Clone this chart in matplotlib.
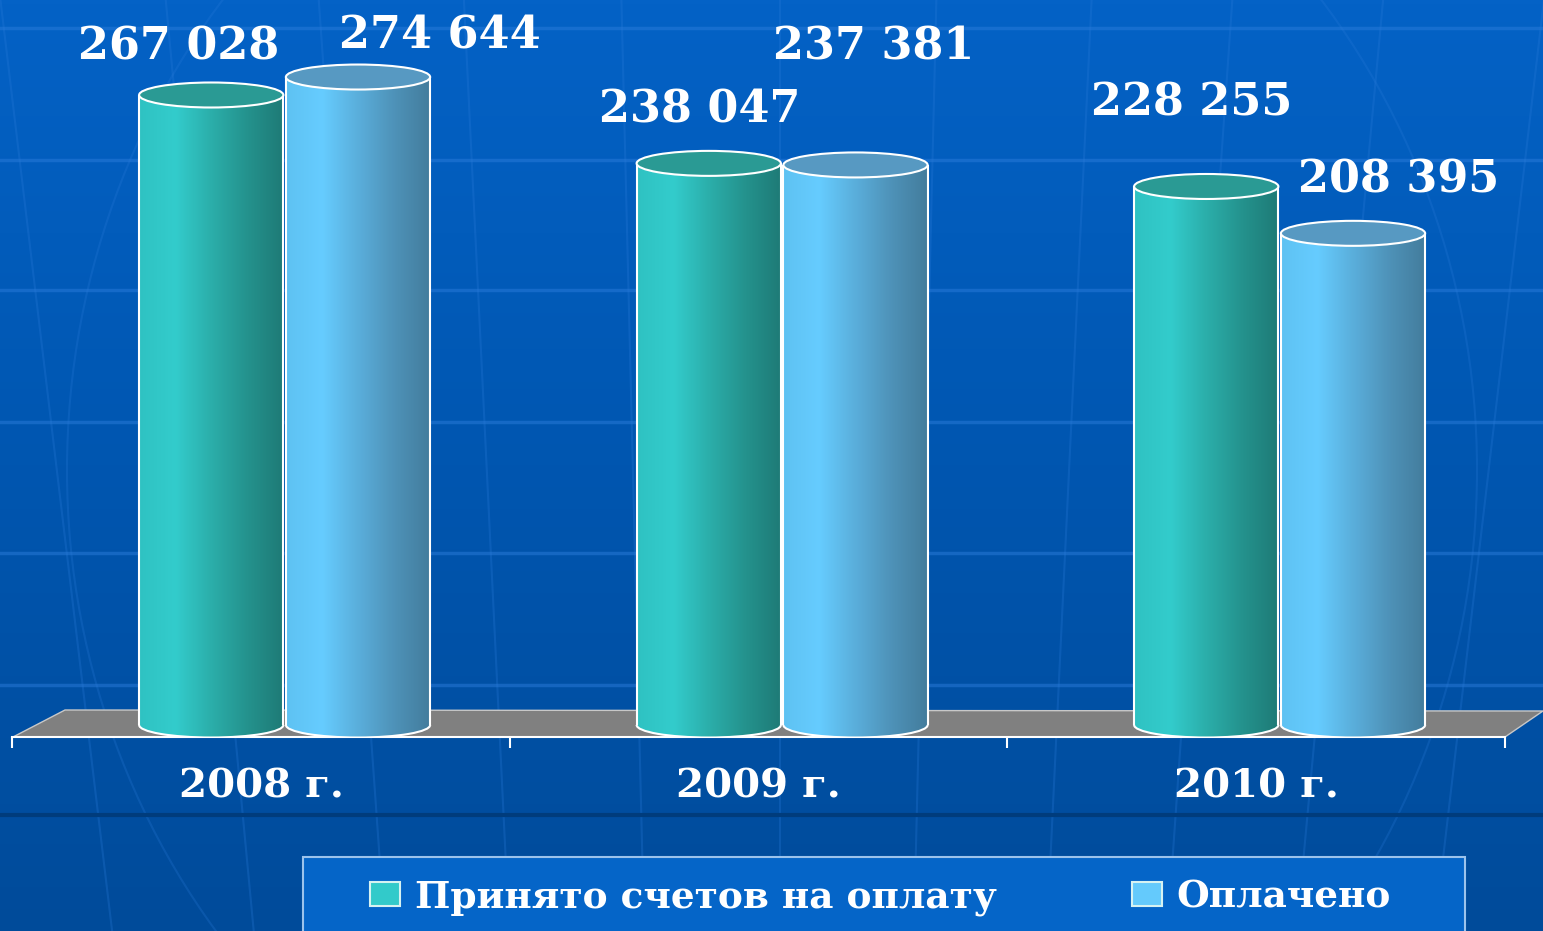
import numpy as np
import matplotlib
matplotlib.use('Agg')
import matplotlib.pyplot as plt
from matplotlib.patches import Ellipse, Arc, Rectangle, Polygon
from matplotlib.colors import LinearSegmentedColormap

# data
years = ['2008 г.', '2009 г.', '2010 г.']
accepted = [267028, 238047, 228255]   # Принято счетов на оплату
paid = [274644, 237381, 208395]       # Оплачено
series_names = ['Принято счетов на оплату', 'Оплачено']

W, H = 1543, 931
fig = plt.figure(figsize=(W / 100, H / 100), dpi=100)
font = dict(family='DejaVu Serif', weight='bold')

# ---- background (pixel coords) ----
bg = fig.add_axes([0, 0, 1, 1], zorder=0)
bg.set_xlim(0, W)
bg.set_ylim(H, 0)
bg.axis('off')
bg_cmap = LinearSegmentedColormap.from_list('bg', ['#0462C6', '#0056B0', '#004B9A'])
bg.imshow(np.linspace(0, 1, 256).reshape(-1, 1), cmap=bg_cmap,
          extent=(0, W, H, 0), aspect='auto', zorder=0)
for gy in [28, 160, 290, 422, 553, 685]:
    bg.axhline(gy, color='#2A7BDA', lw=2.5, alpha=0.5, zorder=1)
# perspective lines converging below the slide
vp = (780, 6500)
for x680 in [-60, 82, 230, 367, 497, 638, 780, 920, 1059, 1185, 1320, 1464, 1600]:
    k = (x680 - vp[0]) / (680 - vp[1])
    bg.plot([x680 + k * (0 - 680), x680 + k * (H - 680)], [0, H],
            color='#2A7BDA', lw=1.5, alpha=0.28, zorder=1)
bg.add_patch(Ellipse((772, 470), 1410, 1500, fill=False, edgecolor='#2A7BDA',
                     lw=1.5, alpha=0.25, zorder=1))
bg.axhline(815, color='#003C7C', lw=3, zorder=2)
# floor
bg.add_patch(Polygon([(13, 737), (1505, 737), (1543, 711), (65, 710)],
                     facecolor='#808080', edgecolor='#C8C8C8', lw=1, zorder=3))
# legend frame
bg.add_patch(Rectangle((303, 857), 1162, 90, facecolor='#0565C8',
                       edgecolor='#9CC3EC', lw=1.5, zorder=3))

# ---- chart axes ----
ax = fig.add_axes([0, (H - 737) / H, 1, 737 / H], zorder=1)
ax.patch.set_alpha(0)
scale = 630 / 267028          # pixels per unit
eh = 25 / scale               # ellipse height in data units
bw = 0.29
x = np.arange(len(years))

green_cmap = LinearSegmentedColormap.from_list(
    'g', ['#2FC2C2', '#33CCCC', '#2BAEAA', '#24928D', '#1E7A76'])
blue_cmap = LinearSegmentedColormap.from_list(
    'b', ['#5EC2F2', '#66CCFF', '#5AAEDB', '#4E92B8', '#437C9C'])
grad = np.linspace(0, 1, 256).reshape(1, -1)


def cylinders(xs, vals, cmap, top_color, z):
    bars = ax.bar(xs, vals, bw, color=cmap(0.2), edgecolor='none', zorder=z)
    for rect, v in zip(bars, vals):
        x0 = rect.get_x()
        w = rect.get_width()
        xc = x0 + w / 2
        im = ax.imshow(grad, cmap=cmap, extent=(x0, x0 + w, 0, v),
                       aspect='auto', zorder=z + 0.1)
        im.set_clip_path(rect)
        bot = Ellipse((xc, 0), w, eh, facecolor=cmap(0.2), edgecolor='none', zorder=z)
        ax.add_patch(bot)
        im2 = ax.imshow(grad, cmap=cmap, extent=(x0, x0 + w, -eh / 2, 0),
                        aspect='auto', zorder=z + 0.1)
        im2.set_clip_path(bot)
        ax.vlines([x0, x0 + w], 0, v, colors='white', lw=1.5, zorder=z + 0.2)
        ax.add_patch(Arc((xc, 0), w, eh, theta1=180, theta2=360,
                         color='white', lw=1.5, zorder=z + 0.2))
        ax.add_patch(Ellipse((xc, v), w, eh, facecolor=top_color,
                             edgecolor='white', lw=1.5, zorder=z + 0.3))
    return bars


b_paid = cylinders(x + 0.195, paid, blue_cmap, '#5799C2', 4)
b_acc = cylinders(x - 0.10, accepted, green_cmap, '#2A9A94', 5)

# value labels (pixel offsets from top of each cylinder)
acc_off = [(-33, 35), (-9, 41), (-15, 71)]
paid_off = [(82, 29), (18, 105), (46, 41)]
for xs, vals, offs in [(x - 0.10, accepted, acc_off), (x + 0.195, paid, paid_off)]:
    for xi, v, (dx, dy) in zip(xs, vals, offs):
        ax.annotate(f'{v:,}'.replace(',', ' '), (xi, v), xytext=(dx, dy),
                    textcoords='offset pixels', ha='center', va='baseline',
                    color='white', fontsize=32, **font, zorder=10)

ax.set_xlim(-261 / 497.5, (W - 261) / 497.5)
ax.set_ylim(-12 / scale, 725 / scale)
ax.set_xticks(x)
ax.set_xticklabels(years, **font)
ax.set_xticks([-0.5, 0.5, 1.5, 2.5], minor=True)
ax.tick_params(axis='x', which='major', length=0, pad=22, labelsize=29,
               labelcolor='white')
ax.tick_params(axis='x', which='minor', length=8, width=1.5, color='white',
               direction='out')
ax.set_yticks([])
for side in ['top', 'left', 'right']:
    ax.spines[side].set_visible(False)
ax.spines['bottom'].set_color('white')
ax.spines['bottom'].set_linewidth(1.5)
ax.spines['bottom'].set_bounds(-0.5, 2.5)

leg = ax.legend([b_acc, b_paid], series_names, loc='center left',
                bbox_to_anchor=(370 / W, 34 / H), bbox_transform=fig.transFigure,
                frameon=False, ncol=2, prop=dict(size=27, **font),
                labelcolor='white', handlelength=0.8, handleheight=0.64,
                handletextpad=0.4, columnspacing=3.6, borderpad=0,
                borderaxespad=0)
for hnd in leg.legend_handles:
    hnd.set_edgecolor('#D6F2F2')
    hnd.set_linewidth(1.5)

fig.savefig('out.png', dpi=100)
